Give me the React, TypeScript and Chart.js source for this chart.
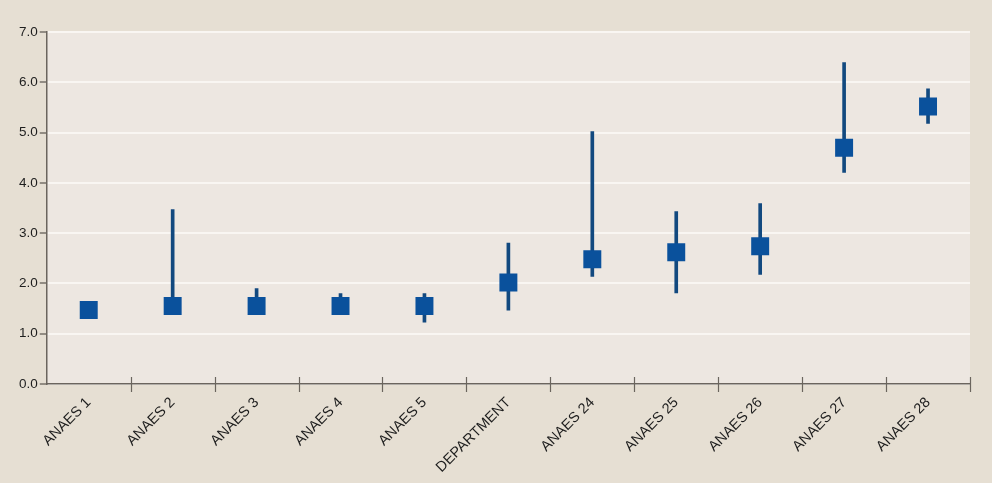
import React, { useEffect, useRef } from "react";
import { Chart, registerables } from "chart.js";

Chart.register(...registerables);

const categories = ["ANAES 1", "ANAES 2", "ANAES 3", "ANAES 4", "ANAES 5", "DEPARTMENT", "ANAES 24", "ANAES 25", "ANAES 26", "ANAES 27", "ANAES 28"];
const medians = [1.47, 1.55, 1.55, 1.55, 1.55, 2.02, 2.48, 2.62, 2.74, 4.70, 5.52];
const lows = [1.42, 1.45, 1.45, 1.5, 1.23, 1.47, 2.14, 1.81, 2.18, 4.21, 5.18];
const highs = [1.52, 3.47, 1.9, 1.8, 1.8, 2.8, 5.02, 3.43, 3.59, 6.39, 5.87];
const yTicks = [0, 1, 2, 3, 4, 5, 6, 7];

const OUTER_BG = "#e6dfd3";
const PLOT_BG = "#ede7e1";

const bgPlugin = {
  id: "plotBg",
  beforeDraw(chart: any) {
    const { ctx, chartArea, width, height } = chart;
    ctx.save();
    ctx.fillStyle = OUTER_BG;
    ctx.fillRect(0, 0, width, height);
    ctx.fillStyle = PLOT_BG;
    ctx.fillRect(chartArea.left, chartArea.top, chartArea.right - chartArea.left, chartArea.bottom - chartArea.top);
    ctx.restore();
  },
  afterDraw(chart: any) {
    const { ctx } = chart;
    const xs = chart.scales.x;
    const n = categories.length;
    ctx.save();
    ctx.strokeStyle = "#6b655e";
    ctx.lineWidth = 1.2;
    for (let i = 1; i <= n; i++) {
      const x = Math.round(xs.left + (i * (xs.right - xs.left)) / n) + 0.5;
      ctx.beginPath();
      ctx.moveTo(x, xs.top - 7);
      ctx.lineTo(x, xs.top + 8);
      ctx.stroke();
    }
    ctx.restore();
  },
};

export default function App() {
  const ref = useRef<HTMLCanvasElement>(null);
  useEffect(() => {
    document.body.style.margin = "0";
    document.body.style.background = OUTER_BG;
    const chart = new Chart(ref.current!, {
      type: "bar",
      data: {
        labels: categories,
        datasets: [
          {
            type: "line" as any,
            data: medians,
            showLine: false,
            pointStyle: "rect",
            pointRadius: 12.7,
            pointHoverRadius: 12.7,
            pointBackgroundColor: "#0a519c",
            pointBorderColor: "#0a519c",
            pointBorderWidth: 0,
            order: 0,
          } as any,
          {
            type: "bar",
            data: lows.map((l, i) => [l, highs[i]]) as any,
            backgroundColor: "#12497f",
            barThickness: 3,
            grouped: false,
            order: 1,
          } as any,
        ],
      },
      options: {
        animation: false,
        responsive: false,
        maintainAspectRatio: false,
        layout: { padding: { left: 17, right: 22, top: 32, bottom: 5 } },
        plugins: { legend: { display: false }, tooltip: { enabled: false } },
        scales: {
          x: {
            offset: true,
            grid: { display: false, offset: true },
            border: { display: true, color: "#6b655e", width: 1.5 },
            ticks: {
              minRotation: 45,
              maxRotation: 45,
              autoSkip: false,
              color: "#1e1e1e",
              font: { family: "'Liberation Sans', Arial, sans-serif", size: 14.5 },
              padding: 2,
            },
          },
          y: {
            min: 0,
            max: 7,
            afterBuildTicks(scale: any) {
              scale.ticks = yTicks.map((v) => ({ value: v }));
            },
            grid: {
              color: "#f9f6f2",
              lineWidth: 2,
              tickColor: "#5a554f",
              tickLength: 7,
              tickWidth: 1.2,
              drawTicks: true,
            },
            border: { display: true, color: "#6b655e", width: 1.5 },
            ticks: {
              color: "#1e1e1e",
              padding: 2,
              font: { family: "'Liberation Sans', Arial, sans-serif", size: 13.5 },
              callback: (v: any) => Number(v).toFixed(1),
            },
          },
        },
      },
      plugins: [bgPlugin],
    });
    return () => chart.destroy();
  }, []);
  return (
    <div style={{ width: 992, height: 483 }}>
      <canvas ref={ref} width={992} height={483} style={{ display: "block" }} />
    </div>
  );
}
